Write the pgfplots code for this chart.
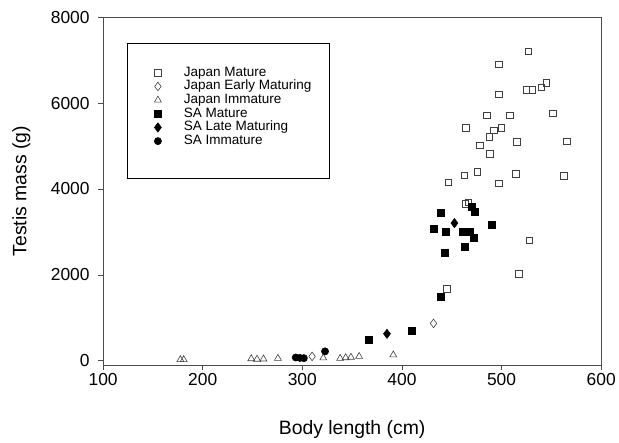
\documentclass[border=0pt]{standalone}
\usepackage{pgfplots}
\pgfplotsset{compat=1.18}
\usepackage{fontspec}
\setmainfont{Liberation Sans}
\begin{document}
\begin{tikzpicture}
\begin{axis}[
  name=main,
  scale only axis, width=499bp, height=348.4bp,
  xmin=100, xmax=600, ymin=-100, ymax=8000,
  xtick={100,200,...,600}, ytick={0,2000,...,8000},
  xtick pos=bottom, ytick pos=left,
  tick align=outside, major tick length=5bp,
  tick style={color=black!70, line width=0.6pt},
  axis line style={black!70, line width=0.6pt},
  ticklabel style={font=\fontsize{17.5}{20}\selectfont},
  yticklabel style={xshift=-5bp},
  /pgf/number format/assume math mode=true,
  /pgf/number format/1000 sep={},
  xlabel={Body length (cm)}, ylabel={Testis mass (g)},
  label style={font=\fontsize{19.5}{23}\selectfont},
  xlabel style={at={(rel axis cs:0.5,0)}, anchor=center, yshift=-65bp},
  ylabel style={at={(rel axis cs:0,0.5)}, anchor=center, yshift=81.8bp},
  clip=false,
  legend cell align=left,
  legend style={at={(rel axis cs:0.0970,0.8582)}, anchor=north west, draw=none, fill=none,
    font=\fontsize{13.6}{15}\selectfont, inner xsep=0pt, inner ysep=0pt,
    nodes={inner sep=0pt, text height=9.5bp, text depth=2.5bp},
    row sep=1.7bp, /tikz/column 1/.style={column sep=19.6bp}},
  legend image code/.code={\path (-6bp,0bp) (6bp,0bp); \draw plot coordinates {(0bp,0bp)};},
  every axis plot/.append style={only marks, line width=0.6pt},
]
\draw[black, line width=0.6pt] (rel axis cs:0.0481,0.5359) rectangle (rel axis cs:0.4543,0.9254);
\addplot[mark=square, mark size=3.3bp, draw=black!75] coordinates {
 (527,7210) (497,6908) (525,6311) (531,6311) (540,6365) (545,6467) (497.5,6202)
 (485,5714) (508.5,5714) (551.6,5761) (464,5428) (492,5366) (499.8,5421)
 (487.5,5212) (515,5096) (565.6,5110) (478,5017) (488,4817)
 (446.7,4158) (462.7,4321) (475.8,4407) (497.5,4128) (514.2,4353) (562.3,4314)
 (466.7,3693) (463.4,3656) (527.9,2804) (517.5,2030) (445,1682)
};
\addlegendentry{Japan Mature}
\addplot[mark=diamond, mark size=4.3bp, draw=black!75] coordinates {
 (431.7,869) (309.8,100)
};
\addlegendentry{Japan Early Maturing}
\addplot[mark=triangle, mark size=4bp, draw=black!75] coordinates {
 (177.6,25) (180.9,25) (248.7,45) (254.5,35) (261,40) (275.5,55)
 (321,65) (338,55) (343.5,70) (348.8,80) (357,100) (391.3,135)
};
\addlegendentry{Japan Immature}
\addplot[mark=square*, mark size=3.5bp, draw=black, fill=black] coordinates {
 (438.7,3454) (469.7,3586) (473,3461) (431.9,3083) (443.7,3006) (461.1,3006)
 (468.4,3006) (471.7,2866) (489.8,3159) (463.1,2657) (442.7,2509) (438.7,1480)
 (366.9,497) (409.6,697)
};
\addlegendentry{SA Mature}
\addplot[mark=diamond*, mark size=4.6bp, draw=black, fill=black] coordinates {
 (452.7,3206) (385,627)
};
\addlegendentry{SA Late Maturing}
\addplot[mark=*, mark size=3.6bp, draw=black, fill=black] coordinates {
 (293.4,75) (297.5,65) (301.5,60) (322.8,218)
};
\addlegendentry{SA Immature}
\end{axis}
\path (main.south west) ++(-103.3bp,-77.3bp);
\path (main.north east) ++(16.7bp,17.3bp);
\end{tikzpicture}
\end{document}
